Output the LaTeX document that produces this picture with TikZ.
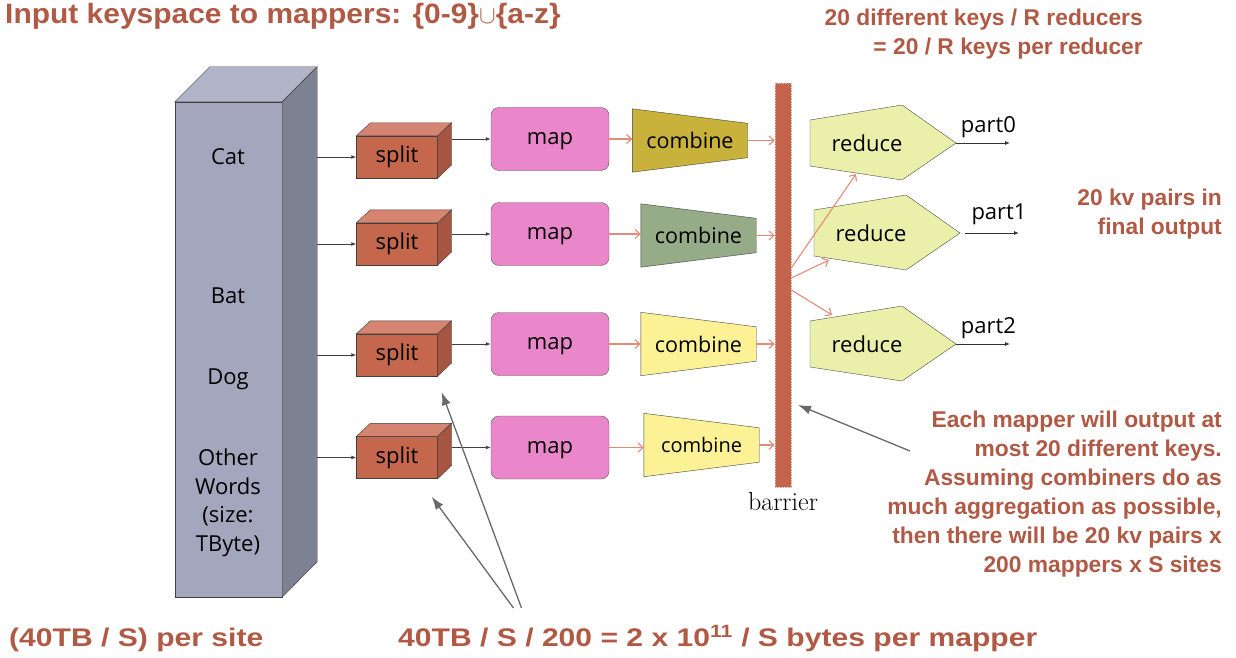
\documentclass[tikz,border=0pt]{standalone}
\usepackage{fontspec}
\usepackage{tikz}
\usetikzlibrary{positioning, arrows.meta, backgrounds}

\newfontfamily\labelfont{Open Sans}
\newfontfamily\notefont{Liberation Sans}
\newfontfamily\widenotefont{Liberation Sans}[FakeStretch=1.18]
\newfontfamily\titlefont{Liberation Sans}[FakeStretch=1.07]

\definecolor{notered}{RGB}{176,89,69}
\definecolor{storefront}{RGB}{163,166,188}
\definecolor{storetop}{RGB}{178,181,200}
\definecolor{storeside}{RGB}{126,129,145}
\definecolor{splitfront}{RGB}{196,103,76}
\definecolor{splittop}{RGB}{212,132,112}
\definecolor{splitside}{RGB}{166,86,64}
\definecolor{mappink}{RGB}{234,134,202}
\definecolor{combolive}{RGB}{200,178,60}
\definecolor{combsage}{RGB}{150,171,136}
\definecolor{combpale}{RGB}{253,241,150}
\definecolor{reducelime}{RGB}{234,240,170}
\definecolor{barrierred}{RGB}{197,100,76}
\definecolor{salmon}{RGB}{228,140,120}
\definecolor{hintgrey}{RGB}{105,105,105}

\tikzset{Word/.style={font=\labelfont\fontsize{22}{28.5}\selectfont, align=center, inner sep=0pt}}
\tikzset{Store/.style={draw=black!75, fill=storefront, minimum width=107pt, minimum height=495pt, inner sep=0pt}}
\tikzset{Split/.style={draw=black!75, fill=splitfront, minimum width=81pt, minimum height=42pt, inner sep=0pt, font=\labelfont\fontsize{22}{26}\selectfont}}
\tikzset{Map/.style={draw=black!65, fill=mappink, rounded corners=8pt, minimum width=118pt, minimum height=63pt, inner sep=0pt, text depth=0pt, font=\labelfont\fontsize{22}{26}\selectfont}}
\tikzset{Combine/.style={minimum width=115pt, minimum height=63pt, inner sep=0pt, font=\labelfont\fontsize{21.5}{24}\selectfont}}
\tikzset{Reduce/.style={minimum width=114pt, minimum height=47pt, inner sep=0pt, font=\labelfont\fontsize{22}{26}\selectfont}}
\tikzset{Part/.style={font=\labelfont\fontsize{22}{26}\selectfont, inner sep=0pt}}
\tikzset{Feed/.style={draw=black!75, line width=0.9pt, -{Latex[length=5pt,width=4pt]}}}
\tikzset{Pass/.style={draw=salmon, line width=1.1pt, -{Straight Barb[length=5pt,width=9pt]}}}
\tikzset{Out/.style={draw=black!80, line width=0.9pt, -{Latex[length=5pt,width=4pt]}}}
\tikzset{Hint/.style={draw=hintgrey, line width=1.3pt, -{Latex[length=13pt,width=9pt]}}}
\tikzset{Note/.style={text=notered, font=\notefont\bfseries\fontsize{22.8}{29}\selectfont, align=right, inner sep=0pt}}
\tikzset{Big Note/.style={Note, anchor=base west, font=\widenotefont\bfseries\fontsize{25.5}{30}\selectfont}}

\begin{document}
\begin{tikzpicture}[x=1pt, y=-1pt]
\useasboundingbox (0,0) rectangle (1236,658);

% notes
\node[Note, anchor=base west, font=\titlefont\bfseries\fontsize{28}{32}\selectfont] (keyspace) at (5,24) {Input keyspace to mappers: \{0-9\}$\cup$\{a-z\}};
\node[Note, anchor=east] (perreducer) at (1143,34) {20 different keys / R reducers\\= 20 / R keys per reducer};
\node[Note, anchor=east] (finalkv) at (1222,214) {20 kv pairs in\\final output};
\node[Note, anchor=east] (mapperkv) at (1222,494) {Each mapper will output at\\most 20 different keys.\\Assuming combiners do as\\much aggregation as possible,\\then there will be 20 kv pairs x\\200 mappers x S sites};
\node[Big Note] (persite) at (9,646.5) {(40TB / S) per site};
\node[Big Note] (permapper) at (398,646.5) {40TB / S / 200 = 2 x 10\textsuperscript{11} / S bytes per mapper};

% input store
\node[Store] (store) at (228.5,349.5) {};
\draw[draw=black!75, fill=storetop] (store.north west) -- ++(35,-35) -- ++(107,0) -- (store.north east) -- cycle;
\draw[draw=black!75, fill=storeside] (store.north east) -- ++(35,-35) -- ++(0,495) -- (store.south east) -- cycle;
\coordinate (storeback) at ([xshift=35pt]store.east);

\node[Word] (cat) at (228,157) {Cat};
\node[Word] (bat) at (228,296) {Bat};
\node[Word] (dog) at (228,379) {Dog};
\node[Word] (other) at (228,503) {Other\\Words\\(size:\\TByte)};

% split
\node[Split] (s1) at (397,157) {split};
\node[Split] (s2) at (397,244) {split};
\node[Split] (s3) at (397,355) {split};
\node[Split] (s4) at (397,457.5) {split};
\foreach \blk in {s1,s2,s3,s4} {
  \draw[draw=black!75, fill=splittop] (\blk.north west) -- ++(14,-13) -- ++(81,0) -- (\blk.north east) -- cycle;
  \draw[draw=black!75, fill=splitside] (\blk.north east) -- ++(14,-13) -- ++(0,42) -- (\blk.south east) -- cycle;
  \draw[Feed] (storeback |- \blk.west) -- (\blk.west);
}

% map
\node[Map] (m1) at (550,139) {map};
\node[Map] (m2) at (550,234) {map};
\node[Map] (m3) at (550,344) {map};
\node[Map] (m4) at (550,447.5) {map};

% combine
\node[Combine] (c1) at (690,140.5) {combine};
\node[Combine] (c2) at (698.5,235.5) {combine};
\node[Combine] (c3) at (698.5,344) {combine};
\node[Combine, font=\labelfont\fontsize{20}{24}\selectfont] (c4) at (701.5,445) {combine};

% barrier
\node[draw=barrierred!55!white, densely dotted, line width=0.6pt, fill=barrierred, minimum width=16pt, minimum height=404pt, inner sep=0pt] (barrier) at (783,285) {};
\node[font=\fontsize{26}{30}\selectfont, below=2pt of barrier] (barrierlabel) {barrier};

% reduce
\node[Reduce] (r1) at (867,143) {reduce};
\node[Reduce] (r2) at (871,233) {reduce};
\node[Reduce] (r3) at (867,344) {reduce};

\begin{scope}[on background layer]
\foreach \blk/\fillcol in {c1/combolive, c2/combsage, c3/combpale, c4/combpale}
  \draw[draw=black!75, fill=\fillcol] (\blk.north west) -- ([yshift=-14.5pt]\blk.north east) -- ([yshift=14.5pt]\blk.south east) -- (\blk.south west) -- cycle;
\foreach \blk in {r1,r2,r3}
  \draw[draw=black!70, fill=reducelime] ([shift={(-57,-23)}]\blk.center) -- ([shift={(35,-38)}]\blk.center) -- ([shift={(89,0)}]\blk.center) coordinate (\blk-tip) -- ([shift={(35,37)}]\blk.center) -- ([shift={(-57,23)}]\blk.center) -- cycle;
\end{scope}

\draw[Feed] ([xshift=14pt]s1.east |- m1) -- (m1);
\draw[Feed] ([xshift=14pt]s2.east |- m2) -- (m2);
\draw[Feed] ([xshift=14pt]s3.east |- m3) -- (m3);
\draw[Feed] ([xshift=14pt]s4.east |- m4) -- (m4);

\draw[Pass] (m1.east) -- (m1.east -| c1.west);
\draw[Pass] (m2.east) -- (m2.east -| c2.west);
\draw[Pass] (m3.east) -- (m3.east -| c3.west);
\draw[Pass] (m4.east) -- (m4.east -| c4.west);

\draw[Pass] (c1.east) -- (c1.east -| barrier.west);
\draw[Pass] (c2.east) -- (c2.east -| barrier.west);
\draw[Pass] (c3.east) -- (c3.east -| barrier.west);
\draw[Pass] (c4.east) -- (c4.east -| barrier.west);

\draw[Pass] ([yshift=17pt]barrier.east) -- ([shift={(-11,31)}]r1.center);
\draw[Pass] ([yshift=7pt]barrier.east) -- ([shift={(-42,27)}]r2.center);
\draw[Pass] ([yshift=-5pt]barrier.east) -- ([shift={(-35,-29)}]r3.center);

\draw[Out] (r1-tip) -- ++(54,0) node[Part, above=5pt, pos=0.6] (part0) {part0};
\draw[Out] ([xshift=5pt]r2-tip) -- ++(54,0) node[Part, above=8pt, pos=0.63] (part1) {part1};
\draw[Out] (r3-tip) -- ++(54,0) node[Part, above=5pt, pos=0.6] (part2) {part2};

% pointers from the notes
\coordinate (hintfrom) at (910,451);
\draw[Hint] (hintfrom) -- ([shift={(15,120)}]barrier.center);
\coordinate (fanfoot) at (517.5,608);
\draw[Hint] ([xshift=4pt]fanfoot) -- ([shift={(4,16)}]s3.south east);
\draw[Hint] ([xshift=-4pt]fanfoot) -- ([shift={(-6,18)}]s4.south east);
\end{tikzpicture}
\end{document}
